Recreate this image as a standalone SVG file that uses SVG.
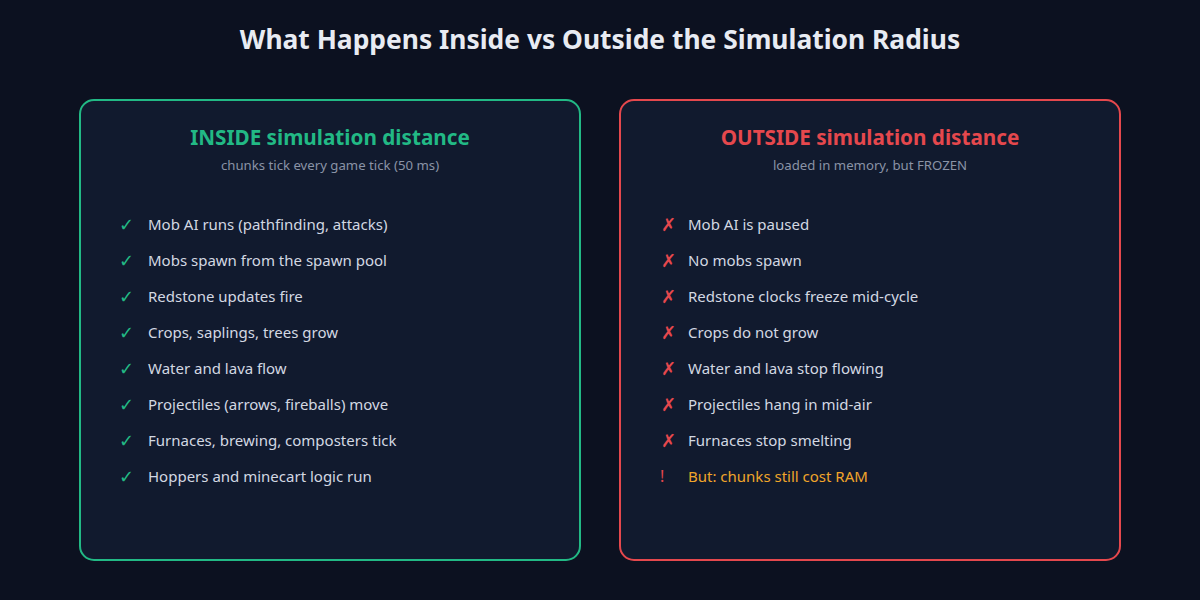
<svg xmlns="http://www.w3.org/2000/svg" width="1200" height="600" viewBox="0 0 1200 600">
<style>
text{font-family:"Noto Sans","Open Sans",sans-serif}
.t{font-size:26.4px;font-weight:700;fill:#e8ebf2}
.h{font-size:20.7px;font-weight:700}
.s{font-size:13.2px;fill:#8a93a6}
.i{font-size:15px;fill:#d3d8e2}
.ck{font-size:18px;fill:#22b985;font-family:"DejaVu Sans",sans-serif}
.x{font-size:18px;fill:#e5484d;font-family:"DejaVu Sans",sans-serif}
.panel{fill:#111a2e;stroke-width:2}
</style>
<rect width="1200" height="600" fill="#0c1120"/>
<text class="t" x="600" y="49" text-anchor="middle">What Happens Inside vs Outside the Simulation Radius</text>
<g id="inside">
<rect class="panel" x="80" y="100" width="500" height="460" rx="14" stroke="#22b985"/>
<text class="h" x="330" y="145" text-anchor="middle" fill="#22b985">INSIDE simulation distance</text>
<text class="s" x="330" y="170" text-anchor="middle">chunks tick every game tick (50 ms)</text>
<g class="ck"><text x="119" y="231">✓</text><text x="119" y="267">✓</text><text x="119" y="303">✓</text><text x="119" y="339">✓</text><text x="119" y="375">✓</text><text x="119" y="411">✓</text><text x="119" y="447">✓</text><text x="119" y="483">✓</text></g>
<g class="i">
<text x="148" y="230">Mob AI runs (pathfinding, attacks)</text>
<text x="148" y="266">Mobs spawn from the spawn pool</text>
<text x="148" y="302">Redstone updates fire</text>
<text x="148" y="338">Crops, saplings, trees grow</text>
<text x="148" y="374">Water and lava flow</text>
<text x="148" y="410">Projectiles (arrows, fireballs) move</text>
<text x="148" y="446">Furnaces, brewing, composters tick</text>
<text x="148" y="482">Hoppers and minecart logic run</text>
</g>
</g>
<g id="outside">
<rect class="panel" x="620" y="100" width="500" height="460" rx="14" stroke="#e5484d"/>
<text class="h" x="870" y="145" text-anchor="middle" fill="#e5484d">OUTSIDE simulation distance</text>
<text class="s" x="870" y="170" text-anchor="middle">loaded in memory, but FROZEN</text>
<g class="x"><text x="661" y="231">✗</text><text x="661" y="267">✗</text><text x="661" y="303">✗</text><text x="661" y="339">✗</text><text x="661" y="375">✗</text><text x="661" y="411">✗</text><text x="661" y="447">✗</text></g>
<text x="660" y="482" font-size="16" fill="#e5484d">!</text>
<g class="i">
<text x="688" y="230">Mob AI is paused</text>
<text x="688" y="266">No mobs spawn</text>
<text x="688" y="302">Redstone clocks freeze mid-cycle</text>
<text x="688" y="338">Crops do not grow</text>
<text x="688" y="374">Water and lava stop flowing</text>
<text x="688" y="410">Projectiles hang in mid-air</text>
<text x="688" y="446">Furnaces stop smelting</text>
</g>
<text x="688" y="482" font-size="15" fill="#f0a52a">But: chunks still cost RAM</text>
</g>
</svg>
